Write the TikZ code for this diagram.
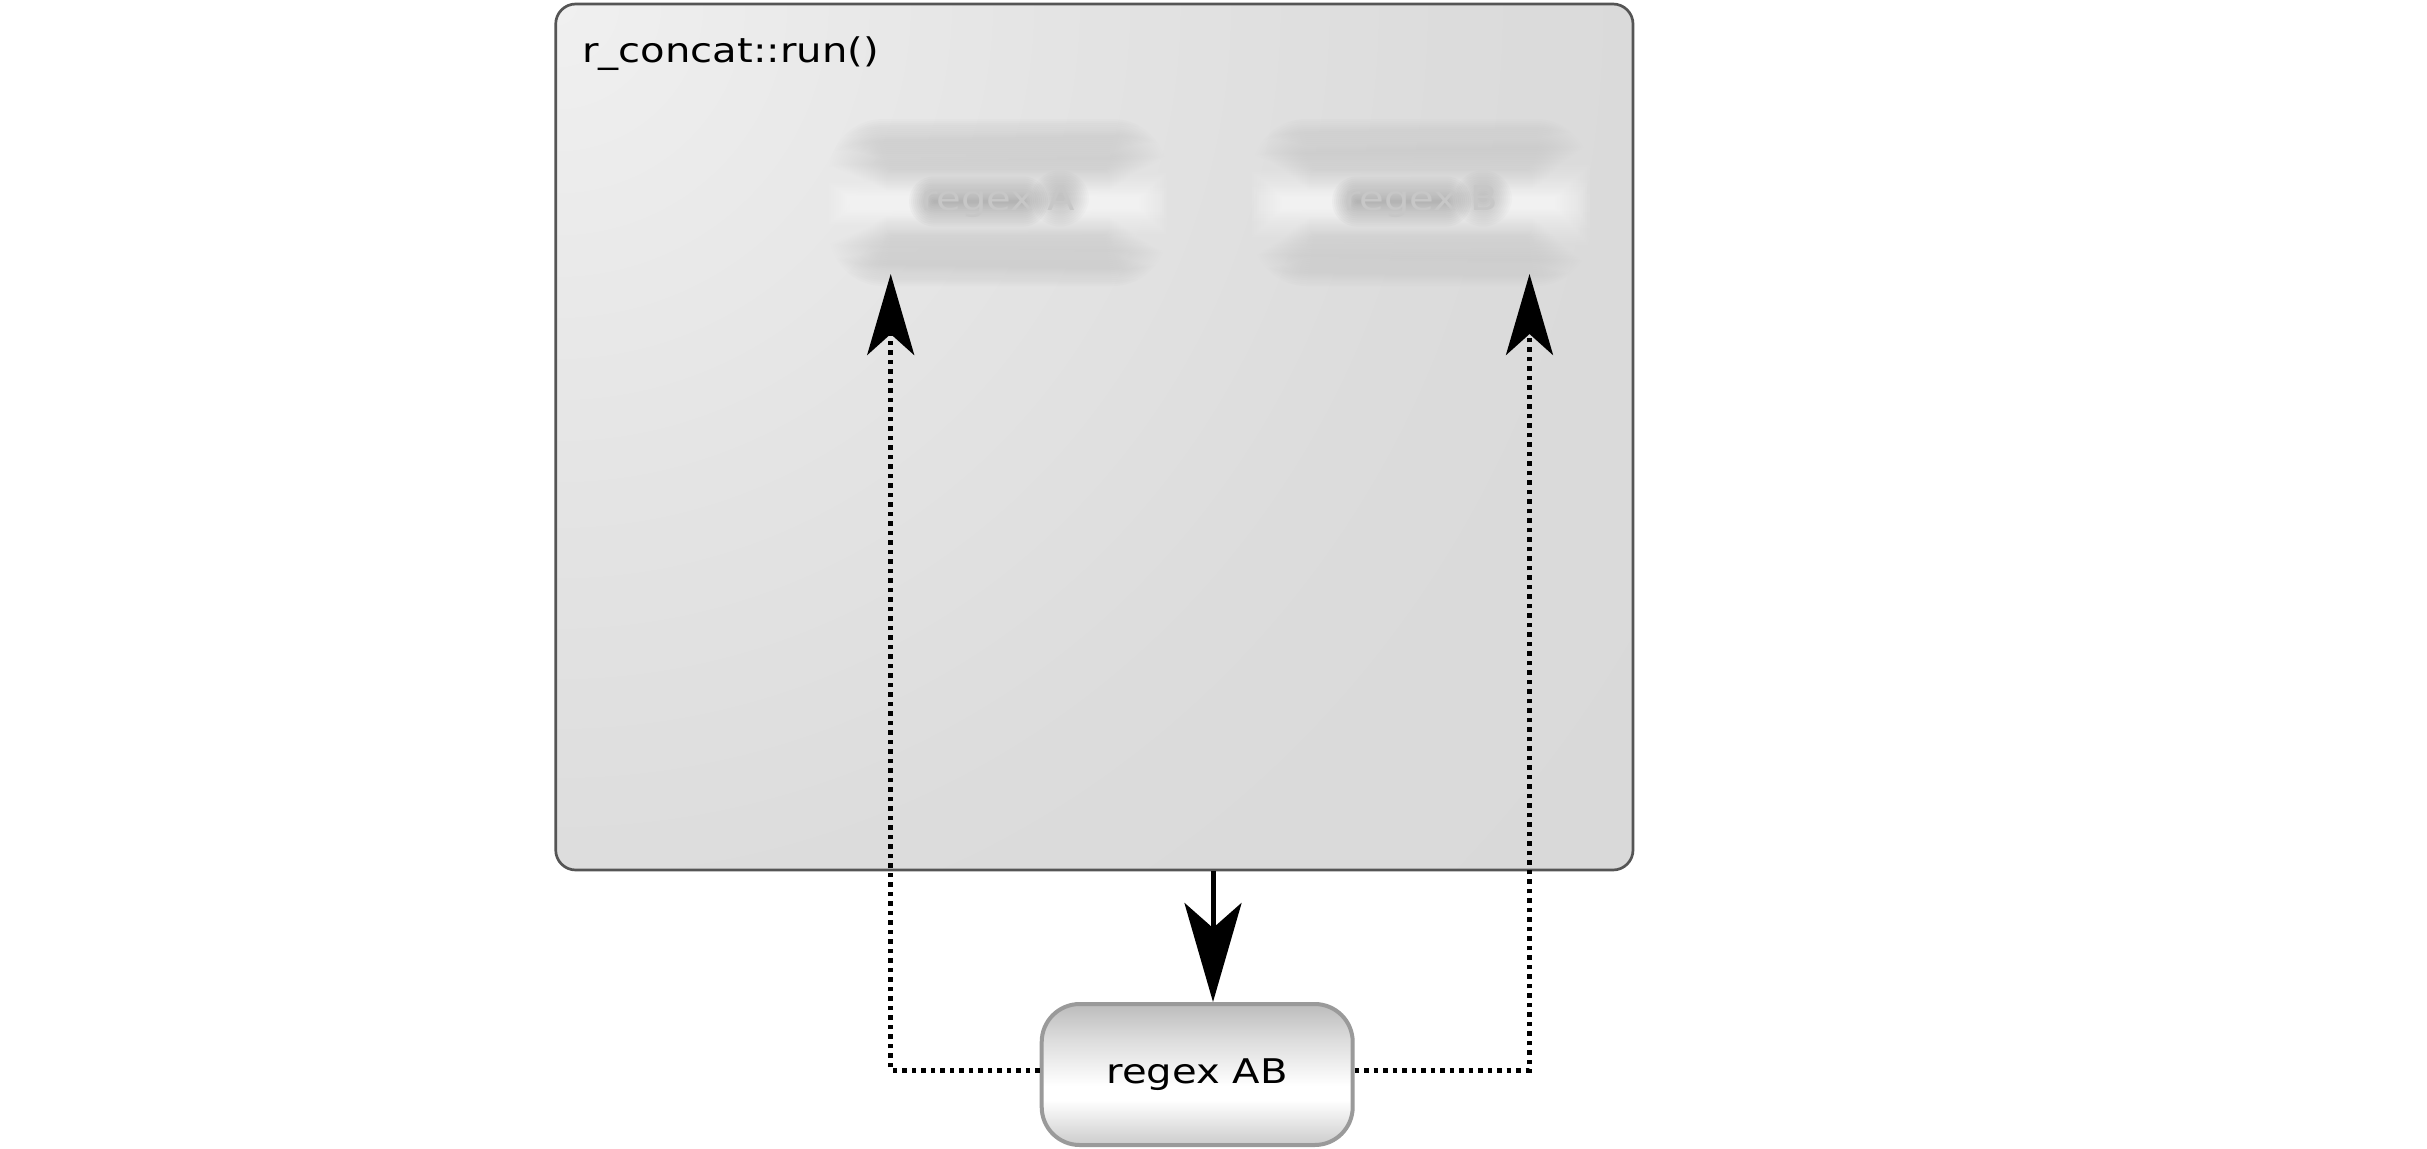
\documentclass[tikz,border=0pt]{standalone}
\usepackage{fontspec}
\setmainfont{DejaVu Sans}[FakeStretch=1.18]
\usetikzlibrary{arrows.meta,calc}
\definecolor{nTop}{HTML}{BCBCBC}
\definecolor{nUp}{HTML}{DCDCDC}
\definecolor{nBot}{HTML}{CCCCCC}
\definecolor{nEdge}{HTML}{9A9A9A}
\definecolor{cEdge}{HTML}{555555}
\definecolor{g0}{HTML}{F0F0F0}
\definecolor{g1}{HTML}{EAEAEA}
\definecolor{g2}{HTML}{E4E4E4}
\definecolor{g3}{HTML}{E0E0E0}
\definecolor{g4}{HTML}{DCDCDC}
\definecolor{g5}{HTML}{DADADA}
\definecolor{g6}{HTML}{D9D9D9}
\definecolor{b0}{HTML}{C6C6C6}
\definecolor{b1}{HTML}{E0E0E0}
\definecolor{b2}{HTML}{FCFCFC}
\definecolor{b3}{HTML}{E2E2E2}
\definecolor{b4}{HTML}{C4C4C4}
\pgfdeclareverticalshading{abshade}{100bp}{color(0bp)=(nBot); color(25bp)=(nBot); color(41bp)=(white); color(46bp)=(white); color(62.5bp)=(nUp); color(75bp)=(nTop); color(100bp)=(nTop)}
\pgfdeclareverticalshading{blurshade}{100bp}{color(0bp)=(b4); color(25bp)=(b4); color(36bp)=(b3); color(47.5bp)=(b2); color(52.5bp)=(b2); color(64bp)=(b1); color(75bp)=(b0); color(100bp)=(b0)}
\pgfdeclareradialshading{cshade}{\pgfpointorigin}{color(0bp)=(g0); color(4.5bp)=(g1); color(8.9bp)=(g2); color(12.5bp)=(g3); color(16bp)=(g4); color(19.6bp)=(g5); color(25bp)=(g6); color(50bp)=(g6)}
\tikzset{
  txt/.style={font=\fontsize{34}{40}\selectfont},
  container/.style={draw=cEdge, line width=2.7pt, rounded corners=20pt, inner sep=0pt,
    minimum width=1077.3pt, minimum height=866pt},
  regnode/.style={shade, shading=abshade, draw=nEdge, line width=4pt, rounded corners=38pt,
    minimum width=311pt, minimum height=141pt, inner sep=0pt, txt},
  blurtext/.style={txt, text=black!22, inner sep=0pt},
  dotline/.style={line width=5pt, dash pattern=on 4.5pt off 5pt,
    -{Stealth[length=81pt,width=47pt,inset=21pt]}},
  solidarrow/.style={line width=5pt, -{Stealth[length=99pt,width=57pt,inset=25pt]}}
}
% a blurred node drawn as soft concentric layers: #1,#2 centre
\newcommand\blurnode[2]{%
  \foreach \j in {0,...,25} {
    \pgfmathsetmacro\d{18-2*\j}
    \pgfmathsetmacro\hx{148+1.15*\d}
    \pgfmathsetmacro\hy{65.5+\d}
    \pgfmathsetmacro\rc{max(36+\d,6)}
    \shade[shading=blurshade, opacity=0.09, rounded corners=\rc pt]
      (#1-\hx,#2-\hy) rectangle (#1+\hx,#2+\hy);
  }
  \foreach \j in {0,...,12} {
    \pgfmathsetmacro\d{16-2*\j}
    \pgfmathsetmacro\hx{53.5+\d}
    \pgfmathsetmacro\hy{max(9+\d,1.5)}
    \fill[black!50, opacity=0.05, rounded corners=\hy pt]
      (#1-19.5-\hx,#2-1-\hy) rectangle (#1-19.5+\hx,#2-1+\hy);
    \pgfmathsetmacro\ax{max(13+\d,1.5)}
    \pgfmathsetmacro\ay{max(12+\d,1.5)}
    \fill[black!50, opacity=0.035, rounded corners=\ax pt]
      (#1+62-\ax,#2-4-\ay) rectangle (#1+62+\ax,#2-4+\ay);
  }}
\begin{document}
\begin{tikzpicture}[x=1pt,y=-1pt]
\fill[white] (0,0) rectangle (2427,1148);
\useasboundingbox (0,0) rectangle (2427,1148);
% container background
\begin{scope}
  \clip[rounded corners=20pt] (555.7,4) rectangle (1633,870);
  \shade[shading=cshade] (555.7,4) circle (1400);
\end{scope}
% blurred inner nodes
\blurnode{998}{202.5}
\blurnode{1421}{202.5}
\node[blurtext] (rega) at (998,201.5) {regex A};
\node[blurtext] (regb) at (1421,201.5) {regex B};
% container frame and title
\node[container] (run) at (1094.35,437) {};
\node[txt, anchor=base west, inner sep=0pt] (title) at (582,62.7) {r\_concat::run()};
\coordinate (ta) at ($(rega)+(-107.3,72.5)$);
\coordinate (tb) at ($(regb)+(108.5,72.5)$);
% result node
\node[regnode] (ab) at (1197.2,1074.5) {regex AB};
\coordinate (yl) at (0,1070);
\coordinate (xs) at (1213,0);
% connectors
\draw[solidarrow] (run.south -| xs) -- (ab.north -| xs);
\draw[dotline] (ab.west |- yl) -| (ta);
\draw[dotline] (ab.east |- yl) -| (tb);
\end{tikzpicture}
\end{document}
